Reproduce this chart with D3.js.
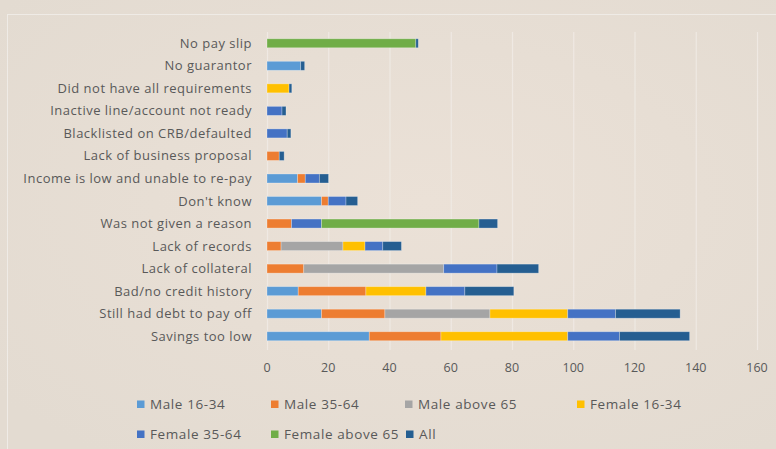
<!DOCTYPE html>
<html>
<head>
<meta charset="utf-8">
<script src="https://cdn.jsdelivr.net/npm/d3@7"></script>
<style>
  html, body { margin: 0; padding: 0; background: #e5ddd3; }
  svg { display: block; }
</style>
</head>
<body>
<div id="viz"></div>
<script>
// ========================================
// Data
// ========================================

var categories = [
   "No pay slip", "No guarantor", "Did not have all requirements",
   "Inactive line/account not ready", "Blacklisted on CRB/defaulted",
   "Lack of business proposal", "Income is low and unable to re-pay",
   "Don't know", "Was not given a reason", "Lack of records",
   "Lack of collateral", "Bad/no credit history", "Still had debt to pay off",
   "Savings too low"
];

var series_names = ["Male 16-34", "Male 35-64", "Male above 65", "Female 16-34",
                    "Female 35-64", "Female above 65", "All"];

// one array per series, same order as categories
var male_16_34     = [0, 11, 0, 0, 0, 0, 10, 17.8, 0, 0, 0, 10.2, 17.8, 33.4];
var male_35_64     = [0, 0, 0, 0, 0, 4, 2.5, 2.2, 8, 4.6, 12, 22.1, 20.7, 23.4];
var male_above_65  = [0, 0, 0, 0, 0, 0, 0, 0, 0, 20.2, 45.7, 0, 34.3, 0];
var female_16_34   = [0, 0, 7.2, 0, 0, 0, 0, 0, 0, 7.2, 0, 19.6, 25.4, 41.4];
var female_35_64   = [0, 0, 0, 4.9, 6.6, 0, 4.6, 5.8, 9.8, 5.8, 17.4, 12.7, 15.6, 16.9];
var female_above_65= [48.6, 0, 0, 0, 0, 0, 0, 0, 51.4, 0, 0, 0, 0, 0];
var all_groups     = [0.8, 1.3, 0.9, 1.3, 1.2, 1.6, 3, 3.8, 6.1, 6.1, 13.6, 16, 21.1, 22.9];

var x_ticks = [0, 20, 40, 60, 80, 100, 120, 140, 160];

var series_colors = ['#5B9BD5', '#ED7D31', '#A5A5A5', '#FFC000', '#4472C4', '#70AD47', '#255E91'];

// ========================================
// SVG
// ========================================

var width = 776, height = 449;
var text_color = '#595959';
var grid_color = '#efe9e3';
var font = "'Open Sans', sans-serif";

var svg = d3.select("#viz")
   .append("svg")
   .attr("width", width)
   .attr("height", height);

// background with faint light patches like the reference
var defs = svg.append("defs");
var grad = defs.append("radialGradient").attr("id", "bg").attr("cx", "0.55").attr("cy", "0.45").attr("r", "0.7");
grad.append("stop").attr("offset", "0%").attr("stop-color", "#ebe1d7");
grad.append("stop").attr("offset", "100%").attr("stop-color", "#e3dbd1");

svg.append("rect").attr("width", width).attr("height", height).style("fill", "url(#bg)");

// chart frame
svg.append("rect")
   .attr("x", 7.5).attr("y", 14.5)
   .attr("width", 790).attr("height", 460)
   .style("fill", "none")
   .style("stroke", "#efebe6")
   .style("stroke-width", 1);

// Scales
var x = d3.scaleLinear().domain([0, 160]).range([267, 757]);
var y = d3.scaleBand().domain(categories).range([32, 347.5]).paddingInner(0.6).paddingOuter(0.3);

// Build a table for the stack
var table = categories.map((c, i) => ({
   category: c,
   s0: male_16_34[i], s1: male_35_64[i], s2: male_above_65[i], s3: female_16_34[i],
   s4: female_35_64[i], s5: female_above_65[i], s6: all_groups[i]
}));
var keys = ["s0", "s1", "s2", "s3", "s4", "s5", "s6"];
var stacked = d3.stack().keys(keys)(table);

// Gridlines
svg.append("g")
   .selectAll("line")
   .data(x_ticks)
   .enter()
   .append("line")
   .attr("x1", d => x(d) + 0.5)
   .attr("x2", d => x(d) + 0.5)
   .attr("y1", 32)
   .attr("y2", 350)
   .style("stroke", grid_color)
   .style("stroke-width", 1.2);

// Bars
svg.append("g")
   .selectAll("g")
   .data(stacked)
   .enter()
   .append("g")
   .style("fill", (d, i) => series_colors[i])
   .selectAll("rect")
   .data(d => d.filter(seg => seg[1] - seg[0] > 0))
   .enter()
   .append("rect")
   .attr("x", d => x(d[0]))
   .attr("y", d => y(d.data.category))
   .attr("width", d => x(d[1]) - x(d[0]))
   .attr("height", y.bandwidth())
   .style("stroke", "rgba(255,255,255,0.35)")
   .style("stroke-width", 0.8);

// Category labels
svg.append("g")
   .selectAll("text")
   .data(categories)
   .enter()
   .append("text")
   .attr("x", 252)
   .attr("y", d => y(d) + y.bandwidth() / 2)
   .attr("dy", "0.35em")
   .attr("text-anchor", "end")
   .style("font-family", font)
   .style("font-size", "13px")
   .style("letter-spacing", "0.5px")
   .style("fill", text_color)
   .text(d => d);

// X axis labels
svg.append("g")
   .selectAll("text")
   .data(x_ticks)
   .enter()
   .append("text")
   .attr("x", d => x(d))
   .attr("y", 372)
   .attr("text-anchor", "middle")
   .style("font-family", font)
   .style("font-size", "12.5px")
   .style("fill", text_color)
   .text(d => d);

// Legend
var legend_pos = [[137, 404], [271, 404], [405, 404], [577, 404],
                  [137, 434], [271, 434], [406, 434]];

var legend = svg.append("g")
   .selectAll("g")
   .data(series_names)
   .enter()
   .append("g")
   .attr("transform", (d, i) => `translate(${legend_pos[i][0]}, ${legend_pos[i][1]})`);

legend.append("rect")
   .attr("x", 0).attr("y", -3.5)
   .attr("width", 7.5).attr("height", 7.5)
   .style("fill", (d, i) => series_colors[i]);

legend.append("text")
   .attr("x", 13)
   .attr("y", 0)
   .attr("dy", "0.35em")
   .style("font-family", font)
   .style("font-size", "13.5px")
   .style("letter-spacing", "0.6px")
   .style("fill", text_color)
   .text(d => d);
</script>
</body>
</html>
